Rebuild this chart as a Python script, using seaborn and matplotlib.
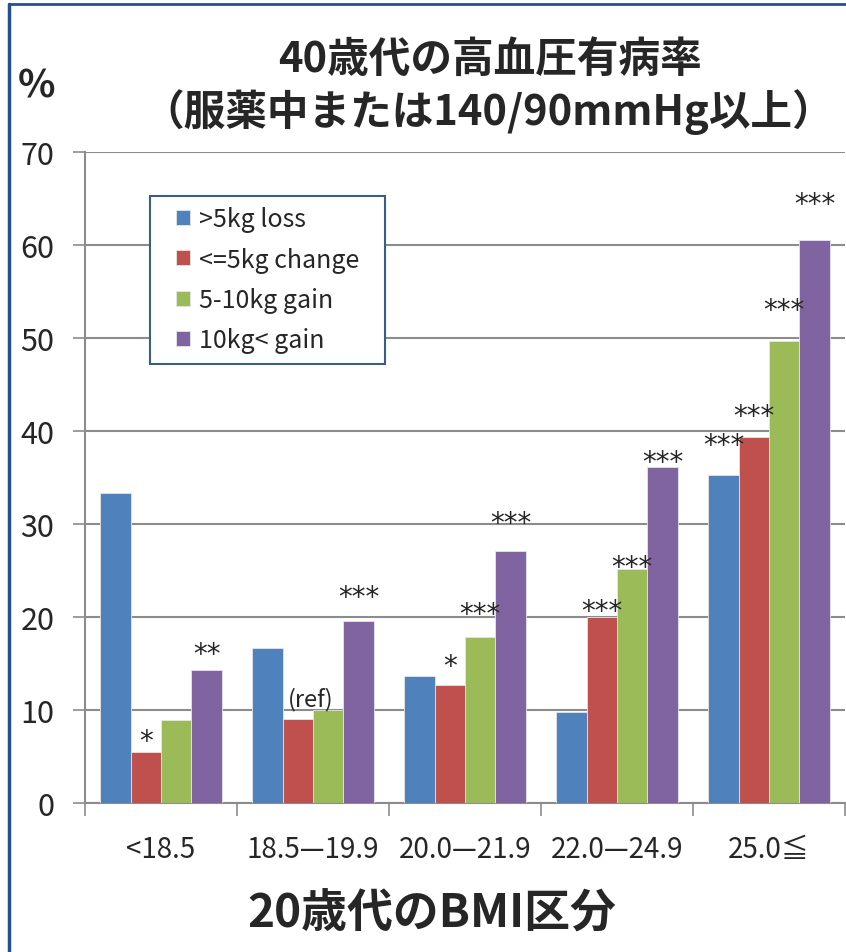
import pandas as pd
import numpy as np
import matplotlib.pyplot as plt
import seaborn as sns
from matplotlib.lines import Line2D

# 40代の高血圧有病率 by 20代 BMI category and weight change

bmi_groups = ["<18.5", "18.5\u201419.9", "20.0\u201421.9", "22.0\u201424.9", "25.0\u2266"]
weight_change = [">5kg loss", "<=5kg change", "5-10kg gain", "10kg< gain"]

loss_gt5 = [33.3, 16.7, 13.7, 9.8, 35.3]
change_le5 = [5.5, 9.0, 12.7, 20.0, 39.4]
gain_5_10 = [8.9, 10.0, 17.8, 25.2, 49.7]
gain_gt10 = [14.3, 19.6, 27.1, 36.1, 60.5]

# significance marks (per series, per BMI group)
sig_loss = ["", "", "", "", "***"]
sig_change = ["*", "(ref)", "*", "***", "***"]
sig_gain510 = ["", "", "***", "***", "***"]
sig_gain10 = ["**", "***", "***", "***", "***"]

colors = ["#4F81BD", "#C0504D", "#9BBB59", "#8064A2"]

series = [loss_gt5, change_le5, gain_5_10, gain_gt10]
marks = [sig_loss, sig_change, sig_gain510, sig_gain10]
# how far above the bar top each mark sits (data units)
mark_gap = [
    [0, 0, 0, 0, 3.2],
    [1.2, 2.2, 2.0, 0.6, 2.2],
    [0, 0, 2.5, 0.2, 3.3],
    [1.7, 2.5, 3.0, 0.6, 3.9],
]

rows = []
for name, vals in zip(weight_change, series):
    for g, v in zip(bmi_groups, vals):
        rows.append({"bmi": g, "change": name, "rate": v})
df = pd.DataFrame(rows)

sns.set_style("white")
plt.rcParams["font.family"] = ["Noto Sans CJK JP", "DejaVu Sans"]

fig = plt.figure(figsize=(8.46, 9.53), dpi=100)
ax = fig.add_axes([0.1005, 0.1563, 0.8983, 0.6832])

sns.barplot(data=df, x="bmi", y="rate", hue="change", order=bmi_groups,
            hue_order=weight_change, palette=colors, width=0.8, saturation=1,
            edgecolor="#e6e6e6", linewidth=0.6, ax=ax, zorder=3)

# significance labels over bars
for cont, labs, gaps in zip(ax.containers, marks, mark_gap):
    for bar, lab, gap in zip(cont, labs, gaps):
        if not lab:
            continue
        x = bar.get_x() + bar.get_width() / 2
        y = bar.get_height() + gap
        if lab == "(ref)":
            ax.annotate(lab, (x, y), xytext=(9, 0), textcoords="offset points",
                        ha="center", va="center", fontsize=17, zorder=5)
        else:
            ax.text(x, y, lab, ha="center", va="center", fontsize=20,
                    family="DejaVu Sans", zorder=5)

ax.set_ylim(0, 70)
ax.set_xlim(-0.5, 4.5)
ax.set_yticks(np.arange(0, 71, 10))
ax.yaxis.grid(True, color="#8c8c8c", linewidth=1.5, zorder=0)
ax.set_axisbelow(True)
ax.tick_params(axis="y", which="major", length=9, width=1.2, color="#8c8c8c",
               labelsize=22, pad=13, left=True)
ax.set_xticks(range(len(bmi_groups)))
ax.set_xticklabels(bmi_groups, fontsize=20)
ax.set_xticks(np.arange(-0.5, 5, 1), minor=True)
ax.tick_params(axis="x", which="major", length=0, pad=22)
ax.tick_params(axis="x", which="minor", length=9, width=1.2, color="#8c8c8c",
               bottom=True)
for s in ["top", "right"]:
    ax.spines[s].set_visible(False)
for s in ["left", "bottom"]:
    ax.spines[s].set_color("#8c8c8c")
    ax.spines[s].set_linewidth(1.5)
ax.set_xlabel("")
ax.set_ylabel("")

leg = ax.legend(loc="upper left", bbox_to_anchor=(166 / 846, 1 - 197 / 953),
                bbox_transform=fig.transFigure, fontsize=18, frameon=True,
                fancybox=False, handlelength=0.55, handleheight=0.55,
                handletextpad=0.35, labelspacing=0.58, borderpad=0.4,
                borderaxespad=0)
frame = leg.get_frame()
frame.set_edgecolor("#385D8A")
frame.set_linewidth(1.5)
frame.set_alpha(1)
# wider side padding than top/bottom padding
frame.set_boxstyle("square", pad=0.65)
frame.set_mutation_aspect(0.01)
leg.set_zorder(6)

fig.text(490 / 846, 1 - 60 / 953, "40歳代の高血圧有病率", ha="center",
         va="center", fontsize=30, fontweight="bold")
fig.text(488 / 846, 1 - 112 / 953, "（服薬中または140/90mmHg以上）",
         ha="center", va="center", fontsize=30, fontweight="bold")
fig.text(36 / 846, 1 - 86 / 953, "%", ha="center", va="center",
         fontsize=28, fontweight="bold")
fig.text(432 / 846, 1 - 915 / 953, "20歳代のBMI区分", ha="center",
         va="center", fontsize=33, fontweight="bold")

# slide frame edges
fig.add_artist(Line2D([9 / 846, 9 / 846], [0, 1 - 5 / 953],
                      transform=fig.transFigure, color="#24508C", lw=2.5))
fig.add_artist(Line2D([9 / 846, 1], [1 - 5 / 953, 1 - 5 / 953],
                      transform=fig.transFigure, color="#24508C", lw=2))

fig.savefig("out.png", dpi=100)
